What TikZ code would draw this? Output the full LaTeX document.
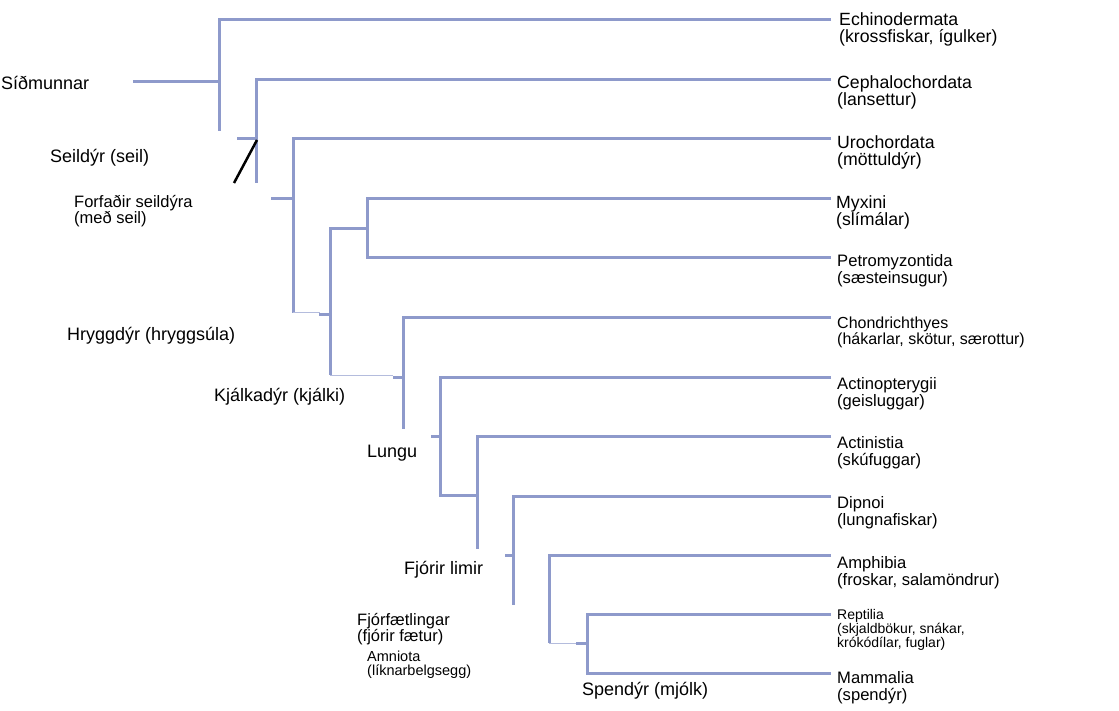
\documentclass[tikz,border=0pt]{standalone}
\usepackage{fontspec}
\setmainfont{Liberation Sans}
\usetikzlibrary{positioning}
\definecolor{cladeblue}{HTML}{8E9ACB}
\definecolor{thinblue}{HTML}{B4BCDD}
\tikzset{
  branch/.style={draw=cladeblue, line width=3pt},
  thinbranch/.style={draw=thinblue, line width=1pt},
  marker/.style={draw=black, line width=2.5pt},
  taxon/.style={anchor=west, inner sep=0pt, align=left, font=\fontsize{17.7}{17}\selectfont},
  taxonmid/.style={taxon, font=\fontsize{16.6}{17}\selectfont},
  taxonsmall/.style={taxon, font=\fontsize{16}{16}\selectfont},
  taxontiny/.style={taxon, font=\fontsize{14}{10.5}\selectfont},
  trait/.style={anchor=west, inner sep=0pt, align=left, font=\fontsize{18}{17}\selectfont},
  traitsmall/.style={trait, font=\fontsize{16.5}{16}\selectfont},
  traittiny/.style={trait, font=\fontsize{14.5}{14}\selectfont}
}

\begin{document}
\begin{tikzpicture}[x=1pt, y=-1pt]
\useasboundingbox (0,0) rectangle (1119,711);
% leaf tips
\coordinate (echi) at (831,20);
\coordinate (ceph) at (831,80);
\coordinate (uro) at (831,139);
\coordinate (myx) at (831,199);
\coordinate (petro) at (831,258);
\coordinate (chond) at (831,318);
\coordinate (actp) at (831,377);
\coordinate (acts) at (831,436);
\coordinate (dip) at (831,496);
\coordinate (amph) at (831,555);
\coordinate (rept) at (831,614);
\coordinate (mamm) at (831,673);
% branch points
\coordinate (root) at (133,82);
\coordinate (n1) at (219,131);
\coordinate (n2) at (256,183);
\coordinate (s2) at (237,139);
\coordinate (d1) at (234,183);
\coordinate (d2) at (257,140);
\coordinate (n3) at (293,313);
\coordinate (s3) at (271,199);
\coordinate (t3) at (320,313);
\coordinate (s5) at (319,315);
\coordinate (n4) at (367,229);
\coordinate (n5) at (330,375);
\coordinate (t5) at (393,375);
\coordinate (s6) at (393,377);
\coordinate (n6) at (403,429);
\coordinate (s7) at (431,436);
\coordinate (n7) at (440,495);
\coordinate (n8) at (477,549);
\coordinate (s9) at (505,555);
\coordinate (n9) at (513,605);
\coordinate (n10) at (549,643);
\coordinate (t10) at (576,643);
\coordinate (n11) at (587,643);

\draw[branch] (root) -- (root -| n1);
\draw[branch] (echi) -| (n1);
\draw[branch] (ceph) -| (n2);
\draw[branch] (s2) -- (s2 -| n2);
\draw[marker] (d1) -- (d2);
\draw[branch] (uro) -| (n3);
\draw[branch] (s3) -- (s3 -| n3);
\draw[thinbranch] (n3) -- (t3);
\draw[branch] (s5) -- (s5 -| n5);
\draw[branch] (myx) -| (n4) |- (petro);
\draw[branch] (n4) -| (n5);
\draw[thinbranch] (n5) -- (t5);
\draw[branch] (s6) -- (s6 -| n6);
\draw[branch] (chond) -| (n6);
\draw[branch] (s7) -- (s7 -| n7);
\draw[branch] (actp) -| (n7) -| (n8);
\draw[branch] (acts) -| (n8);
\draw[branch] (s9) -- (s9 -| n9);
\draw[branch] (dip) -| (n9);
\draw[branch] (amph) -| (n10);
\draw[thinbranch] (n10) -- (t10);
\draw[branch] (t10) -- (n11);
\draw[branch] (rept) -| (n11) |- (mamm);

% taxa
\node[taxon, right=8pt of echi, yshift=-9.5pt] (echiL) {Echinodermata\\(krossfiskar, ígulker)};
\node[taxon, right=6pt of ceph, yshift=-12.5pt] (cephL) {Cephalochordata\\(lansettur)};
\node[taxon, right=6pt of uro, yshift=-13pt] (uroL) {Urochordata\\(möttuldýr)};
\node[taxon, right=5pt of myx, yshift=-13pt] (myxL) {Myxini\\(slímálar)};
\node[taxonmid, right=6pt of petro, yshift=-12.5pt] (petroL) {Petromyzontida\\(sæsteinsugur)};
\node[taxonsmall, right=6pt of chond, yshift=-14pt] (chondL) {Chondrichthyes\\(hákarlar, skötur, særottur)};
\node[taxonmid, right=6pt of actp, yshift=-16.5pt] (actpL) {Actinopterygii\\(geisluggar)};
\node[taxonmid, right=6pt of acts, yshift=-16.5pt] (actsL) {Actinistia\\(skúfuggar)};
\node[taxonmid, right=6pt of dip, yshift=-17pt] (dipL) {Dipnoi\\(lungnafiskar)};
\node[taxonmid, right=6pt of amph, yshift=-17.5pt] (amphL) {Amphibia\\(froskar, salamöndrur)};
\node[taxontiny, right=6pt of rept, yshift=-16pt] (reptL) {Reptilia\\(skjaldbökur, snákar,\\krókódílar, fuglar)};
\node[taxonmid, right=6pt of mamm, yshift=-14.5pt] (mammL) {Mammalia\\(spendýr)};

% traits
\node[trait] (sidmL) at (1,83) {Síðmunnar};
\node[trait] (seilL) at (50,158) {Seildýr (seil)};
\node[traitsmall] (forfL) at (74,211) {Forfaðir seildýra\\(með seil)};
\node[trait] (hryggL) at (67,335.5) {Hryggdýr (hryggsúla)};
\node[trait] (kjalkL) at (214,397) {Kjálkadýr (kjálki)};
\node[trait] (lunguL) at (367,453) {Lungu};
\node[trait] (limirL) at (404,570) {Fjórir limir};
\node[traitsmall] (fjorL) at (357,629.5) {Fjórfætlingar\\(fjórir fætur)};
\node[traittiny] (amnL) at (367,665) {Amniota\\(líknarbelgsegg)};
\node[trait] (spendL) at (582,691) {Spendýr (mjólk)};
\end{tikzpicture}
\end{document}
